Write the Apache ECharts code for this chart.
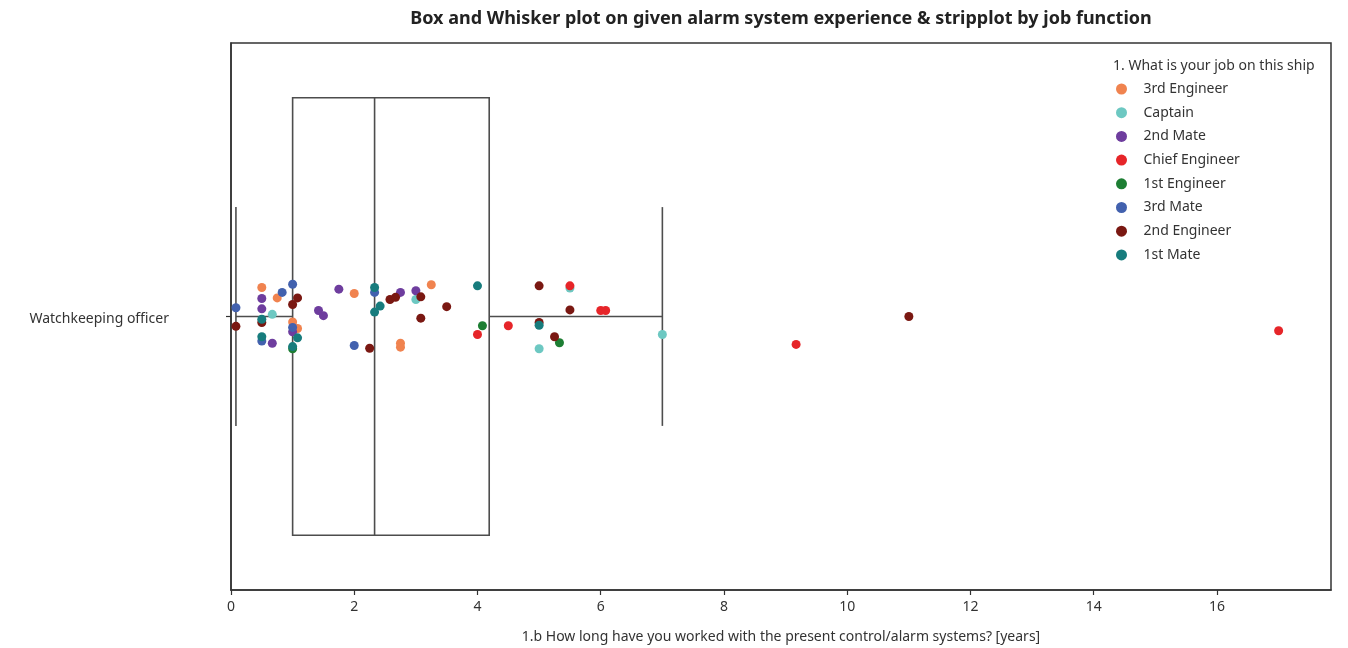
<!DOCTYPE html>
<html>
<head>
<meta charset="utf-8">
<script src="https://cdn.jsdelivr.net/npm/echarts@6/dist/echarts.min.js"></script>
<style>html,body{margin:0;padding:0;background:#fff;}#c{width:1348px;height:648px;}</style>
</head>
<body>
<div id="c"></div>
<script>
// ---- data ----
const categoryLabel = 'Watchkeeping officer';
const xTicks = [0, 2, 4, 6, 8, 10, 12, 14, 16];
// box stats: [whisker low, Q1, median, Q3, whisker high]
const boxStats = [0.08, 1.0, 2.33, 4.19, 7.0];
const jobNames = ['3rd Engineer', 'Captain', '2nd Mate', 'Chief Engineer', '1st Engineer', '3rd Mate', '2nd Engineer', '1st Mate'];
const jobColors = ['#F0834F', '#6DC8C2', '#6E3D9E', '#E62529', '#1D7E33', '#4261AE', '#7A1812', '#177C7D'];
// [years, jitter offset]
const thirdEngineer = [[0.5, 0.053], [0.75, 0.034], [1.0, -0.010], [1.08, -0.022], [2.0, 0.042], [3.25, 0.058], [2.75, -0.049], [2.75, -0.056]];
const captain = [[0.67, 0.004], [3.0, 0.031], [5.0, -0.059], [7.0, -0.033], [5.5, 0.052]];
const secondMate = [[0.5, 0.033], [0.5, 0.014], [0.67, -0.049], [1.0, -0.028], [1.42, 0.011], [1.5, 0.0015], [1.75, 0.050], [2.75, 0.044], [3.0, 0.047]];
const chiefEngineer = [[4.0, -0.033], [4.5, -0.017], [5.5, 0.056], [6.0, 0.011], [6.08, 0.011], [9.17, -0.051], [17.0, -0.026]];
const firstEngineer = [[1.0, -0.059], [4.08, -0.017], [5.33, -0.048]];
const thirdMate = [[0.08, 0.016], [0.5, -0.045], [0.83, 0.044], [1.0, 0.059], [1.0, -0.020], [2.0, -0.053], [2.33, 0.044]];
const secondEngineer = [[0.08, -0.018], [0.5, -0.011], [1.0, 0.022], [1.08, 0.034], [2.25, -0.058], [2.58, 0.031], [2.67, 0.035], [3.08, 0.036], [3.08, -0.003], [3.5, 0.018], [5.0, 0.056], [5.0, -0.011], [5.25, -0.037], [5.5, 0.012], [11.0, 0.000]];
const firstMate = [[0.5, -0.005], [0.5, -0.037], [1.0, -0.055], [1.08, -0.039], [2.33, 0.053], [2.42, 0.019], [2.33, 0.008], [4.0, 0.056], [5.0, -0.016]];
const jobData = [thirdEngineer, captain, secondMate, chiefEngineer, firstEngineer, thirdMate, secondEngineer, firstMate];

const FONT = 'Noto Sans';
const TXT = '#333';
const chart = echarts.init(document.getElementById('c'), null, {renderer: 'canvas'});

const boxSeries = {
  type: 'custom',
  name: 'box',
  z: 1,
  silent: true,
  data: [boxStats],
  renderItem: function (params, api) {
    const lo = api.value(0), q1 = api.value(1), med = api.value(2), q3 = api.value(3), hi = api.value(4);
    const halfBox = 0.4, halfCap = 0.2;
    const pTL = api.coord([q1, halfBox]);
    const pBR = api.coord([q3, -halfBox]);
    const mTop = api.coord([med, halfBox]);
    const mBot = api.coord([med, -halfBox]);
    const wl = api.coord([lo, 0]);
    const wq1 = api.coord([q1, 0]);
    const wq3 = api.coord([q3, 0]);
    const wh = api.coord([hi, 0]);
    const cLoT = api.coord([lo, halfCap]), cLoB = api.coord([lo, -halfCap]);
    const cHiT = api.coord([hi, halfCap]), cHiB = api.coord([hi, -halfCap]);
    const st = {stroke: '#4d4d4d', lineWidth: 1.6, fill: null};
    return {
      type: 'group',
      children: [
        {type: 'rect', shape: {x: pTL[0], y: pTL[1], width: pBR[0] - pTL[0], height: pBR[1] - pTL[1]}, style: st},
        {type: 'line', shape: {x1: mTop[0], y1: mTop[1], x2: mBot[0], y2: mBot[1]}, style: st},
        {type: 'line', shape: {x1: wl[0], y1: wl[1], x2: wq1[0], y2: wq1[1]}, style: st},
        {type: 'line', shape: {x1: wq3[0], y1: wq3[1], x2: wh[0], y2: wh[1]}, style: st},
        {type: 'line', shape: {x1: cLoT[0], y1: cLoT[1], x2: cLoB[0], y2: cLoB[1]}, style: st},
        {type: 'line', shape: {x1: cHiT[0], y1: cHiT[1], x2: cHiB[0], y2: cHiB[1]}, style: st}
      ]
    };
  }
};

const scatterSeries = jobNames.map(function (name, i) {
  return {
    type: 'scatter',
    name: name,
    data: jobData[i],
    symbol: 'circle',
    symbolSize: 9,
    z: 2 + i,
    itemStyle: {color: jobColors[i], opacity: 1},
    emphasis: {disabled: true}
  };
});

chart.setOption({
  animation: false,
  backgroundColor: '#fff',
  textStyle: {fontFamily: FONT},
  title: [
    {
      text: 'Box and Whisker plot on given alarm system experience & stripplot by job function',
      left: 781, top: 10, textAlign: 'center', padding: 0,
      textStyle: {fontFamily: FONT, fontSize: 18, fontWeight: 'bold', color: '#222'}
    },
    {
      text: '1. What is your job on this ship',
      left: 1113, top: 59, padding: 0,
      textStyle: {fontFamily: FONT, fontSize: 14, fontWeight: 'normal', color: TXT}
    }
  ],
  legend: {
    orient: 'vertical',
    left: 1111, top: 76,
    data: jobNames,
    icon: 'circle',
    itemWidth: 34, itemHeight: 11,
    itemGap: 7.7,
    selectedMode: false,
    textStyle: {fontFamily: FONT, fontSize: 14, color: TXT, lineHeight: 16}
  },
  grid: {
    left: 231, right: 17, top: 43, bottom: 58,
    show: true, borderColor: '#333', borderWidth: 1.5, backgroundColor: 'transparent',
    containLabel: false, outerBoundsMode: 'none'
  },
  xAxis: {
    type: 'value', min: 0, max: 17.85, interval: 2,
    name: '1.b How long have you worked with the present control/alarm systems? [years]',
    nameLocation: 'middle', nameGap: 40,
    nameTextStyle: {fontFamily: FONT, fontSize: 14, color: TXT},
    axisLine: {show: true, onZero: false, lineStyle: {color: '#333', width: 1.5}},
    axisTick: {show: true, length: 5, customValues: xTicks, lineStyle: {color: '#333', width: 1.2}},
    axisLabel: {customValues: xTicks, fontFamily: FONT, fontSize: 14, color: TXT, margin: 10},
    splitLine: {show: false}
  },
  yAxis: {
    type: 'value', min: -0.5, max: 0.5,
    axisLine: {show: true, onZero: false, lineStyle: {color: '#333', width: 1.5}},
    axisTick: {show: true, length: 5, customValues: [0], lineStyle: {color: '#333', width: 1.2}},
    axisLabel: {
      customValues: [0],
      formatter: function () { return '{a|' + categoryLabel + '}'; },
      margin: 62,
      rich: {a: {fontFamily: FONT, fontSize: 14, color: TXT, padding: [6, 0, 0, 0]}}
    },
    splitLine: {show: false}
  },
  series: [boxSeries].concat(scatterSeries)
});
</script>
</body>
</html>
